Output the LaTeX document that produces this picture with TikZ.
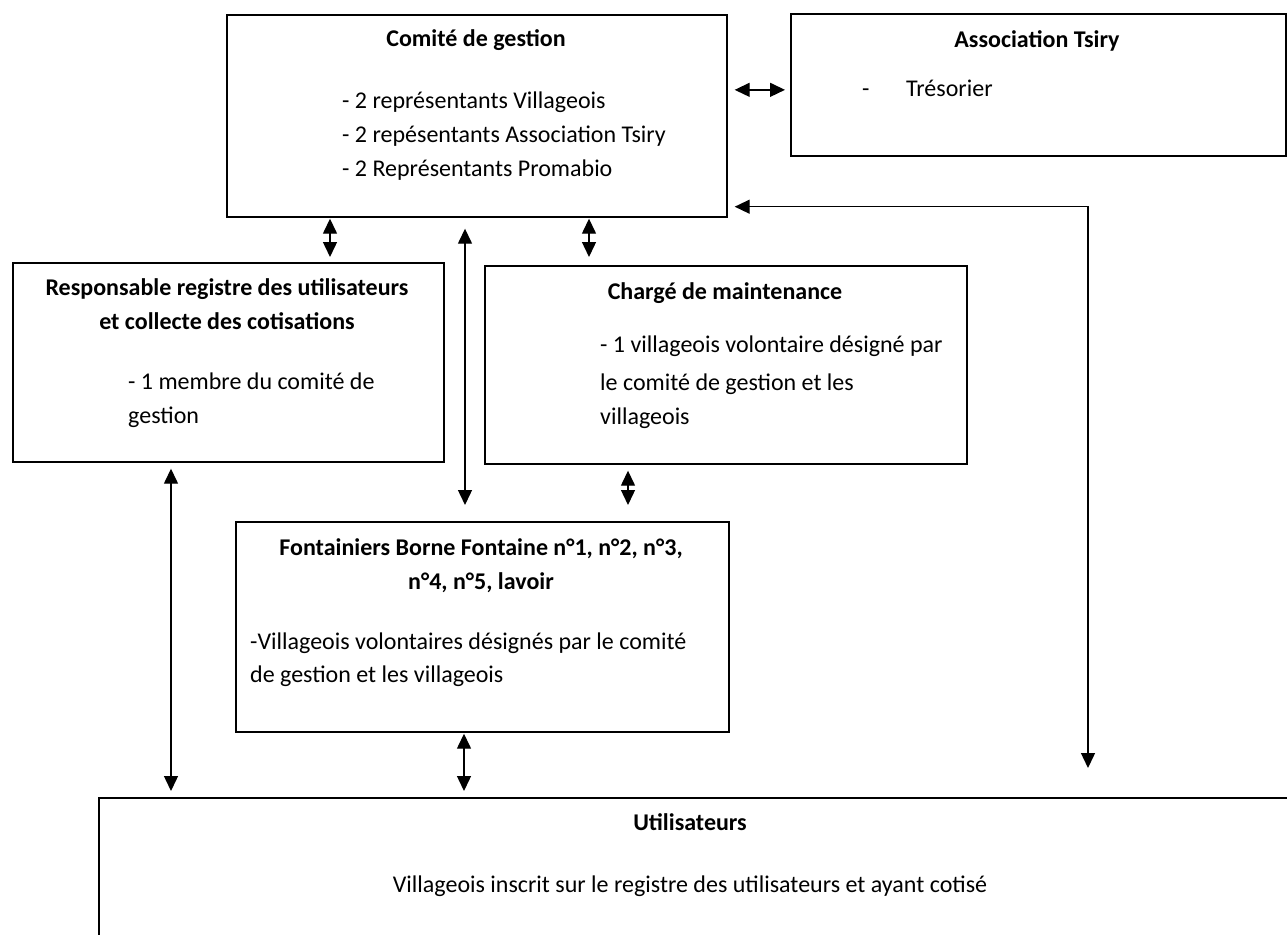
\documentclass[tikz,border=0pt]{standalone}
\usepackage{fontspec}
\setmainfont{Carlito}
\usetikzlibrary{arrows.meta,calc}
\begin{document}
\begin{tikzpicture}[x=1pt,y=-1pt,
  box/.style={draw, line width=1.7pt, anchor=north west, inner sep=0pt},
  txt/.style={inner sep=0pt, font=\fontsize{24}{34}\selectfont, text height=17pt, text depth=5pt},
  ttl/.style={txt, font=\fontsize{24}{34}\selectfont\bfseries},
  lt/.style={txt, anchor=west},
  arr/.style={line width=1.4pt, {Triangle[length=15pt,width=14pt]}-{Triangle[length=15pt,width=14pt]}}]
\useasboundingbox (0,0) rectangle (1287,934);
\clip (0,0) rectangle (1287,934);
% boxes
\node[box, minimum width=500pt, minimum height=202pt] (comite) at (226,14) {};
\node[box, minimum width=495pt, minimum height=142pt] (tsiry) at (790,13) {};
\node[box, minimum width=431pt, minimum height=199pt] (resp) at (12,262) {};
\node[box, minimum width=482pt, minimum height=198pt] (charge) at (484,265) {};
\node[box, minimum width=493pt, minimum height=210pt] (font) at (235,521) {};
\node[box, minimum width=1210pt, minimum height=220pt] (util) at (98,797) {};
% texts
\node[ttl] (comiteT) at (476,41) {Comité de gestion};
\node[lt] (comite1) at (342,102) {- 2 représentants Villageois};
\node[lt] (comite2) at (342,136) {- 2 repésentants Association Tsiry};
\node[lt] (comite3) at (342,170) {- 2 Représentants Promabio};
\node[ttl] (tsiryT) at (1037,42) {Association Tsiry};
\node[lt] (tsiryD) at (862,90) {-};
\node[lt] (tsiry1) at (906,90) {Trésorier};
\node[ttl] (respT1) at (227,289) {Responsable registre des utilisateurs};
\node[ttl] (respT2) at (227,323) {et collecte des cotisations};
\node[lt] (resp1) at (128,383) {- 1 membre du comité de};
\node[lt] (resp2) at (128,417) {gestion};
\node[ttl] (chT) at (725,293) {Chargé de maintenance};
\node[lt] (ch1) at (600,346) {- 1 villageois volontaire désigné par};
\node[lt] (ch2) at (600,384) {le comité de gestion et les};
\node[lt] (ch3) at (600,418) {villageois};
\node[ttl] (fT1) at (481,549) {Fontainiers Borne Fontaine n°1, n°2, n°3,};
\node[ttl] (fT2) at (481,583) {n°4, n°5, lavoir};
\node[lt] (f1) at (250,643) {-Villageois volontaires désignés par le comité};
\node[lt] (f2) at (250,676) {de gestion et les villageois};
\node[ttl] (uT) at (690,824) {Utilisateurs};
\node[txt] (u1) at (690,886) {Villageois inscrit sur le registre des utilisateurs et ayant cotisé};
% connectors
\draw[arr] ($(comite.east)+(7,-26)$) -- ($(tsiry.west)+(-5,5)$);
\draw[arr] ($(comite.south west)+(104,1)$) -- ($(resp.north west)+(318,-5)$);
\draw[arr] ($(comite.south west)+(363,1)$) -- ($(charge.north west)+(105,-8)$);
\draw[arr] ($(comite.south west)+(239,11)$) -- ($(font.north west)+(230,-16)$);
\draw[arr] ($(charge.south west)+(144,6)$) -- ($(font.north west)+(393,-16)$);
\draw[arr] ($(resp.south west)+(159,6)$) -- ($(util.north west)+(73,-6)$);
\draw[arr] ($(font.south west)+(229,1)$) -- ($(util.north west)+(366,-6)$);
\draw[arr] ($(comite.south east)+(7,-11)$) -| ($(util.north west)+(990,-29)$);
\end{tikzpicture}
\end{document}
